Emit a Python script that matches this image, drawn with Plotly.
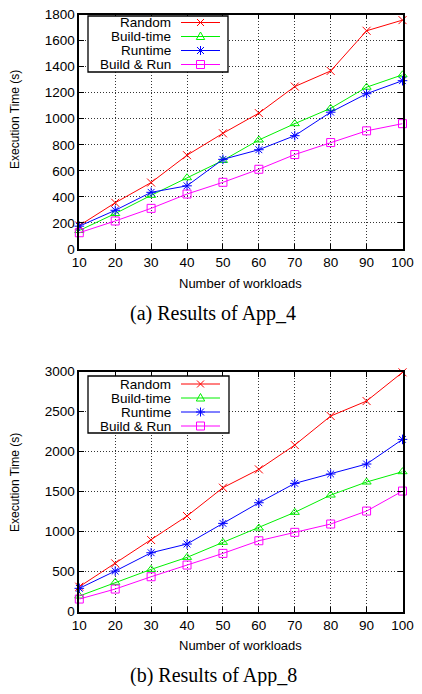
import plotly.graph_objects as go

workloads = [10, 20, 30, 40, 50, 60, 70, 80, 90, 100]
series_names = ["Random", "Build-time", "Runtime", "Build & Run"]

app4_random = [180, 355, 510, 720, 888, 1043, 1247, 1367, 1675, 1757]
app4_build = [142, 272, 412, 547, 680, 837, 962, 1080, 1242, 1337]
app4_runtime = [175, 297, 435, 485, 688, 762, 870, 1050, 1192, 1292]
app4_buildrun = [125, 215, 312, 422, 512, 612, 725, 817, 907, 962]

app8_random = [312, 604, 896, 1196, 1550, 1779, 2083, 2446, 2633, 2992]
app8_build = [196, 367, 529, 679, 867, 1046, 1242, 1458, 1621, 1750]
app8_runtime = [292, 508, 737, 846, 1104, 1362, 1604, 1721, 1846, 2154]
app8_buildrun = [158, 283, 437, 583, 729, 887, 992, 1096, 1258, 1508]

y_ticks_a = [0, 200, 400, 600, 800, 1000, 1200, 1400, 1600, 1800]
y_ticks_b = [0, 500, 1000, 1500, 2000, 2500, 3000]

# the page body has an 8px margin on every side: keep the page within the window
OFF = 8
W, H = 422 - 2 * OFF, 694 - 2 * OFF
colors = ["#FF0000", "#00F000", "#0000FF", "#FF00FF"]
symbols = ["x-thin-open", "triangle-up-open", "asterisk-open", "square-open"]
SANS = "Liberation Sans, Arial, sans-serif"
SERIF = "Liberation Serif, Times New Roman, serif"

# plot-area pixel boxes (window coordinates)
X0, X1 = 79.3, 402.5
TOP_A, BOT_A = 14.5, 249.0
TOP_B, BOT_B = 371.7, 611.7


def px(p):
    return (p - OFF) / W


def py(p):
    return 1 - (p - OFF) / H


fig = go.Figure()

panels = [
    ("x", "y", [app4_random, app4_build, app4_runtime, app4_buildrun]),
    ("x2", "y2", [app8_random, app8_build, app8_runtime, app8_buildrun]),
]
for xa, ya, data in panels:
    for name, vals, c, s in zip(series_names, data, colors, symbols):
        fig.add_trace(go.Scatter(
            x=workloads, y=vals, name=name, xaxis=xa, yaxis=ya,
            mode="lines+markers", showlegend=False, cliponaxis=False,
            line=dict(color=c, width=1),
            marker=dict(symbol=s, size=8, color=c, line=dict(color=c, width=1)),
        ))

grid_dash = "1px,2px"
common_x = dict(
    range=[10, 100], tickmode="array", tickvals=workloads,
    showline=True, linecolor="black", linewidth=1.8, mirror="ticks",
    ticks="inside", ticklen=5, tickcolor="black", tickwidth=1.2,
    showgrid=True, gridcolor="#333", gridwidth=1, griddash=grid_dash,
    zeroline=False, automargin=False, ticklabeloverflow="allow",
    tickfont=dict(family=SANS, size=13.5, color="black"),
    domain=[px(X0), px(X1)],
)
common_y = dict(
    showline=True, linecolor="black", linewidth=1.8, mirror="ticks",
    ticks="inside", ticklen=5, tickcolor="black", tickwidth=1.2,
    showgrid=True, gridcolor="#333", gridwidth=1, griddash=grid_dash,
    zeroline=False, automargin=False, tickmode="array", ticklabeloverflow="allow",
    tickfont=dict(family=SANS, size=13.5, color="black"),
)

fig.update_layout(
    width=W, height=H, margin=dict(l=0, r=0, t=0, b=0),
    paper_bgcolor="white", plot_bgcolor="white",
    xaxis=dict(common_x, anchor="y"),
    yaxis=dict(common_y, anchor="x", range=[0, 1800], tickvals=y_ticks_a,
               domain=[py(BOT_A), py(TOP_A)]),
    xaxis2=dict(common_x, anchor="y2"),
    yaxis2=dict(common_y, anchor="x2", range=[0, 3000], tickvals=y_ticks_b,
                domain=[py(BOT_B), py(TOP_B)]),
)

annotations = []
shapes = []

marker_paths = {
    "x-thin-open": "M-3.5,-3.5 L3.5,3.5 M-3.5,3.5 L3.5,-3.5",
    "triangle-up-open": "M0,4.5 L4.2,-3 L-4.2,-3 Z",
    "asterisk-open": "M-3.5,-3.5 L3.5,3.5 M-3.5,3.5 L3.5,-3.5 M0,-4.5 L0,4.5 M-4.5,0 L4.5,0",
    "square-open": "M-4,-4 L4,-4 L4,4 L-4,4 Z",
}

for title_y, bot, rows, box in [
    (120, BOT_A, [22.5, 36.5, 50.5, 64.5], (88, 16, 228, 72)),
    (483, BOT_B, [384, 398, 412, 426], (88, 376, 229, 433)),
]:
    annotations.append(dict(
        text="Execution Time (s)", xref="paper", yref="paper",
        x=px(15), y=py(title_y), textangle=-90, showarrow=False,
        xanchor="center", yanchor="middle",
        font=dict(family=SANS, size=12, color="black")))
    annotations.append(dict(
        text="Number of workloads", xref="paper", yref="paper",
        x=px((X0 + X1) / 2), y=py(bot + 34), showarrow=False,
        xanchor="center", yanchor="middle",
        font=dict(family=SANS, size=13, color="black")))
    # legend box
    shapes.append(dict(type="rect", xref="paper", yref="paper",
                       x0=px(box[0]), x1=px(box[2]), y0=py(box[3]), y1=py(box[1]),
                       fillcolor="white", line=dict(color="black", width=1.3),
                       layer="above"))
    for name, c, s, ry in zip(series_names, colors, symbols, rows):
        annotations.append(dict(
            text=name, xref="paper", yref="paper", x=px(173), y=py(ry),
            xanchor="right", yanchor="middle", showarrow=False,
            font=dict(family=SANS, size=13.5, color="black")))
        shapes.append(dict(type="line", xref="paper", yref="paper",
                           x0=px(181), x1=px(220), y0=py(ry), y1=py(ry),
                           line=dict(color=c, width=1), layer="above"))
        shapes.append(dict(type="path", xref="paper", yref="paper",
                           xsizemode="pixel", ysizemode="pixel",
                           xanchor=px(200.5), yanchor=py(ry),
                           path=marker_paths[s], line=dict(color=c, width=1),
                           fillcolor="rgba(0,0,0,0)", layer="above"))

annotations.append(dict(text="(a) Results of App_4", xref="paper", yref="paper",
                        x=px(213), y=py(313), showarrow=False,
                        xanchor="center", yanchor="middle",
                        font=dict(family=SERIF, size=20, color="black")))
annotations.append(dict(text="(b) Results of App_8", xref="paper", yref="paper",
                        x=px(213), y=py(675), showarrow=False,
                        xanchor="center", yanchor="middle",
                        font=dict(family=SERIF, size=20, color="black")))

fig.update_layout(annotations=annotations, shapes=shapes)
fig.write_html("out.html")
